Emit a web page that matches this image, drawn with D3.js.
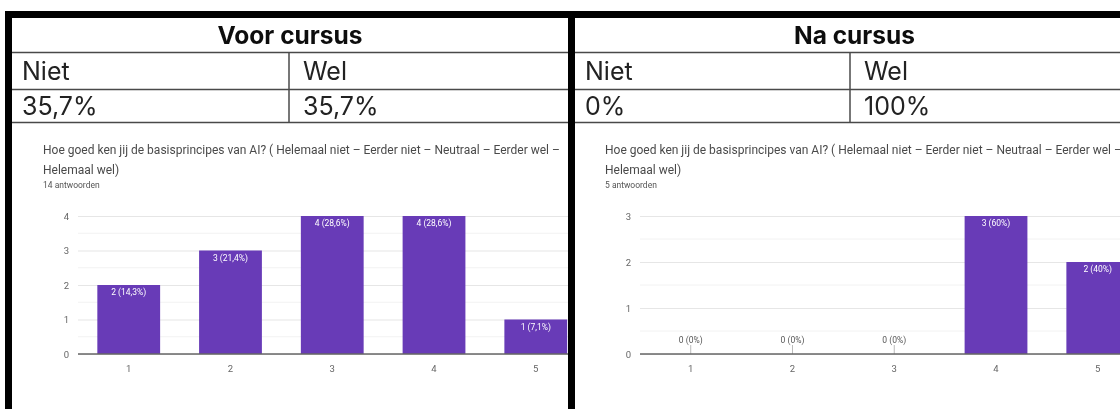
<!DOCTYPE html>
<html>
<head>
<meta charset="utf-8">
<script src="https://cdn.jsdelivr.net/npm/d3@7"></script>
<style>
  html, body { margin: 0; padding: 0; background: #fff; }
  svg { display: block; }
</style>
</head>
<body>
<svg id="chart" width="1120" height="409"></svg>
<script>
// Answer scale 1..5 and the number of answers per option
const categories = ["1", "2", "3", "4", "5"];
const voorCounts = [2, 3, 4, 4, 1];
const naCounts = [0, 0, 0, 3, 2];

// Summary table contents
const panelTitles = ["Voor cursus", "Na cursus"];
const columnHeads = ["Niet", "Wel"];
const voorShares = ["35,7%", "35,7%"];
const naShares = ["0%", "100%"];

const question = [
  "Hoe goed ken jij de basisprincipes van AI? ( Helemaal niet \u2013 Eerder niet \u2013 Neutraal \u2013 Eerder wel \u2013",
  "Helemaal wel)"
];
const voorTicks = [0, 1, 2, 3, 4];
const naTicks = [0, 1, 2, 3];

const svg = d3.select("#chart");
const defs = svg.append("defs");
defs.append("filter").attr("id", "soft")
  .attr("x", "-5%").attr("y", "-5%").attr("width", "110%").attr("height", "110%")
  .append("feGaussianBlur").attr("stdDeviation", 0.7);
defs.append("filter").attr("id", "softer")
  .append("feGaussianBlur").attr("stdDeviation", 0.35);

svg.append("rect").attr("width", 1120).attr("height", 409).attr("fill", "#fff");

const purple = "#673ab7";
const tableFont = "Inter, 'Liberation Sans', sans-serif";
const chartFont = "Roboto, 'Noto Sans', sans-serif";

// Formats a share as Dutch percent text, e.g. 14,3% or 60%
function pct(v, total) {
  const p = Math.round(v / total * 1000) / 10;
  return (Number.isInteger(p) ? String(p) : p.toFixed(1)).replace(".", ",") + "%";
}

const panels = [
  { x0: 12, x1: 568, split: 289, title: panelTitles[0], shares: voorShares,
    counts: voorCounts, ticks: voorTicks, yMax: 4, answers: "14 antwoorden", plotLeft: 78 },
  { x0: 575, x1: 1134, split: 850, title: panelTitles[1], shares: naShares,
    counts: naCounts, ticks: naTicks, yMax: 3, answers: "5 antwoorden", plotLeft: 640 }
];

const yTop = 216, yBase = 354, step = 101.7;

panels.forEach((p, i) => {
  const clipId = "clip" + i;
  defs.append("clipPath").attr("id", clipId)
    .append("rect").attr("x", p.x0).attr("y", 123).attr("width", p.x1 - p.x0).attr("height", 300);

  // ---- summary table
  const t = svg.append("g").attr("filter", "url(#softer)");
  const lineColor = "#4a4a4a";
  [52.5, 89.5, 122.5].forEach(y => {
    t.append("line").attr("x1", p.x0).attr("x2", p.x1).attr("y1", y).attr("y2", y)
      .attr("stroke", lineColor).attr("stroke-width", 1.5);
  });
  t.append("line").attr("x1", p.split).attr("x2", p.split).attr("y1", 52).attr("y2", 123)
    .attr("stroke", lineColor).attr("stroke-width", 1.5);

  t.append("text").attr("x", (p.x0 + p.x1) / 2).attr("y", 44)
    .attr("text-anchor", "middle").attr("font-family", tableFont)
    .attr("font-weight", 700).attr("font-size", 24.5).attr("fill", "#111")
    .text(p.title);
  const cols = [p.x0 + 10, p.split + 14];
  columnHeads.forEach((h, k) => {
    t.append("text").attr("x", cols[k]).attr("y", 80).attr("font-family", tableFont)
      .attr("font-size", 25).attr("fill", "#222").text(h);
    t.append("text").attr("x", cols[k]).attr("y", 114.5).attr("font-family", tableFont)
      .attr("font-size", 25).attr("fill", "#222").text(p.shares[k]);
  });

  // ---- embedded bar chart
  const g = svg.append("g").attr("clip-path", `url(#${clipId})`)
    .append("g").attr("filter", "url(#soft)");

  const qx = p.plotLeft - 35;
  question.forEach((line, k) => {
    g.append("text").attr("x", qx).attr("y", 154 + k * 20)
      .attr("font-family", chartFont).attr("font-size", 12).attr("fill", "#4a4a4a")
      .text(line);
  });
  g.append("text").attr("x", qx).attr("y", 188)
    .attr("font-family", chartFont).attr("font-size", 8.5).attr("fill", "#555")
    .text(p.answers);

  const x = d3.scaleBand().domain(categories)
    .range([p.plotLeft, p.plotLeft + step * categories.length])
    .paddingInner(0.383).paddingOuter(0.19);
  const y = d3.scaleLinear().domain([0, p.yMax]).range([yBase, yTop]);

  // minor grid at half steps, major grid at whole steps
  const half = d3.range(0.5, p.yMax, 1);
  g.selectAll(null).data(half).join("line")
    .attr("x1", p.plotLeft).attr("x2", p.x1 + 100)
    .attr("y1", d => y(d)).attr("y2", d => y(d))
    .attr("stroke", "#f2f2f2").attr("stroke-width", 1);

  const yAxis = d3.axisLeft(y).tickValues(p.ticks).tickFormat(d3.format("d"))
    .tickSize(-(p.x1 + 100 - p.plotLeft)).tickPadding(9);
  const ya = g.append("g").attr("transform", `translate(${p.plotLeft},0)`).call(yAxis);
  ya.select(".domain").remove();
  ya.selectAll(".tick line").attr("stroke", "#e6e6e6").attr("stroke-width", 1.2);
  ya.selectAll(".tick text").attr("font-family", chartFont).attr("font-size", 9.5).attr("fill", "#666");

  // bars for options that got answers
  const filled = categories.filter((c, k) => p.counts[k] > 0);
  g.selectAll(null).data(filled).join("rect")
    .attr("x", d => x(d)).attr("width", x.bandwidth())
    .attr("y", d => y(p.counts[categories.indexOf(d)]))
    .attr("height", d => yBase - y(p.counts[categories.indexOf(d)]))
    .attr("fill", purple);

  // short markers for options without answers
  categories.forEach((c, k) => {
    if (p.counts[k] === 0) {
      const cx = x(c) + x.bandwidth() / 2;
      g.append("line").attr("x1", cx).attr("x2", cx).attr("y1", yBase - 9).attr("y2", yBase)
        .attr("stroke", "#bbb").attr("stroke-width", 1);
    }
  });

  // value labels
  const total = d3.sum(p.counts);
  categories.forEach((c, k) => {
    const v = p.counts[k];
    const cx = x(c) + x.bandwidth() / 2;
    g.append("text").attr("x", cx)
      .attr("y", v > 0 ? y(v) + 10 : yBase - 11)
      .attr("text-anchor", "middle").attr("font-family", chartFont).attr("font-size", 8.5)
      .attr("fill", v > 0 ? "#fff" : "#555")
      .text(`${v} (${pct(v, total)})`);
  });

  // baseline and category labels
  const xAxis = d3.axisBottom(x).tickSize(0).tickPadding(11);
  const xa = g.append("g").attr("transform", `translate(0,${yBase})`).call(xAxis);
  xa.select(".domain").attr("stroke", "#666").attr("stroke-width", 1.6)
    .attr("d", `M${p.plotLeft},0H${p.x1 + 100}`);
  xa.selectAll(".tick text").attr("font-family", chartFont).attr("font-size", 9.5).attr("fill", "#666");
});

// heavy frame: left edge, top edge, centre divider
svg.append("rect").attr("x", 5).attr("y", 11).attr("width", 1115).attr("height", 7).attr("fill", "#000");
svg.append("rect").attr("x", 5).attr("y", 11).attr("width", 7).attr("height", 398).attr("fill", "#000");
svg.append("rect").attr("x", 568).attr("y", 11).attr("width", 7).attr("height", 398).attr("fill", "#000");
</script>
</body>
</html>
